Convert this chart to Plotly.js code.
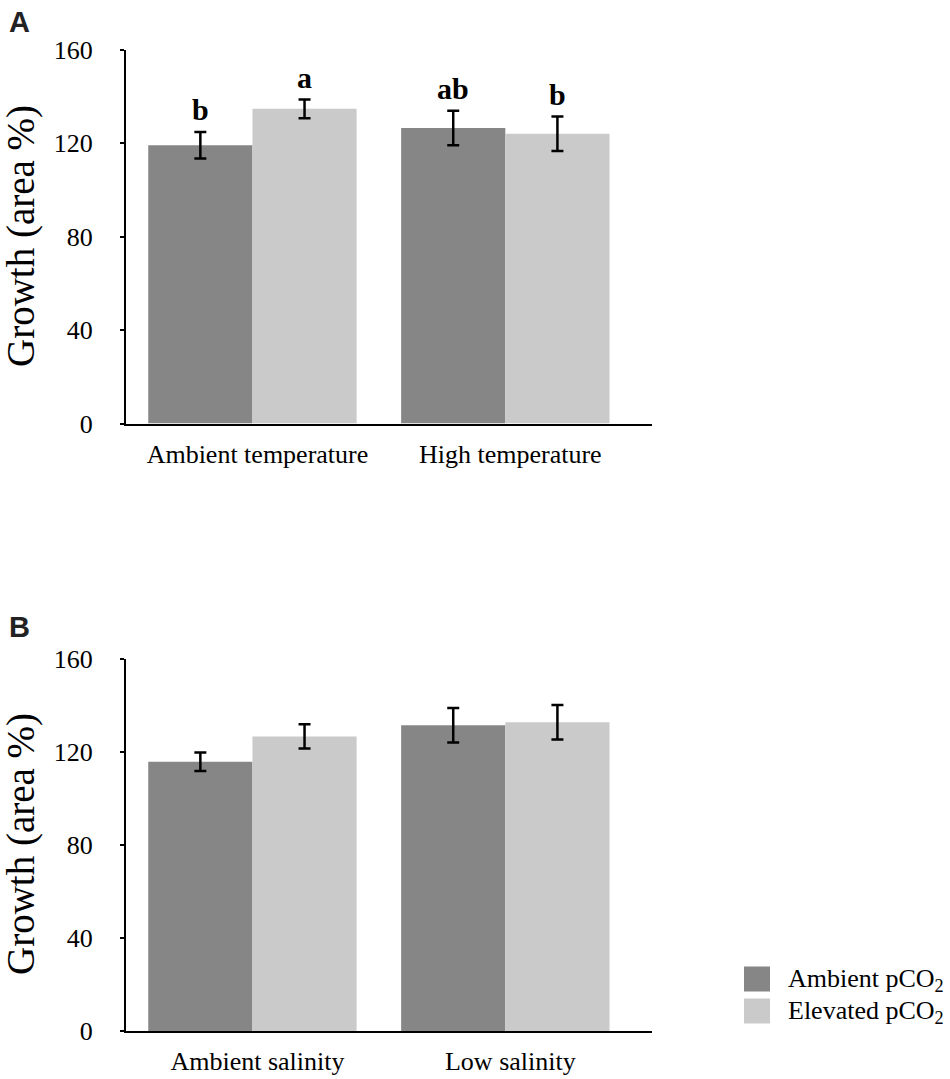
<!DOCTYPE html>
<html>
<head>
<meta charset="utf-8">
<script src="https://cdn.plot.ly/plotly-3.0.1.min.js"></script>
<style>html,body{margin:0;padding:0;background:#fff;}#chart{width:950px;height:1079px;}</style>
</head>
<body>
<div id="chart"></div>
<script>
// Panel A data
const catsA = ["Ambient temperature", "High temperature"];
const ambientA = [119.2, 126.6];
const ambientAErr = [5.7, 7.4];
const elevatedA = [134.8, 124.1];
const elevatedAErr = [4.0, 7.4];
const lettersAmbientA = ["b", "ab"];
const lettersElevatedA = ["a", "b"];

// Panel B data
const catsB = ["Ambient salinity", "Low salinity"];
const ambientB = [115.8, 131.5];
const ambientBErr = [4.0, 7.4];
const elevatedB = [126.7, 132.8];
const elevatedBErr = [5.2, 7.4];

const seriesNames = ["Ambient pCO<sub>2</sub>", "Elevated pCO<sub>2</sub>"];
const yTicks = [0, 40, 80, 120, 160];

const darkCol = "#868686";
const lightCol = "#cacaca";
const colors = [darkCol, lightCol];
const serif = "Liberation Serif, Times New Roman, serif";
const sans = "Liberation Sans, Arial, sans-serif";
const bargap = 0.176;

function bar(x, y, err, name, color, xa, ya) {
  return {
    type: "bar", x: x, y: y, name: name, xaxis: xa, yaxis: ya,
    marker: {color: color}, showlegend: false, legendgroup: name,
    error_y: {type: "data", array: err, visible: true, color: "#000", thickness: 2.5, width: 6}
  };
}

const data = [
  bar(catsA, ambientA, ambientAErr, seriesNames[0], darkCol, "x", "y"),
  bar(catsA, elevatedA, elevatedAErr, seriesNames[1], lightCol, "x", "y"),
  bar(catsB, ambientB, ambientBErr, seriesNames[0], darkCol, "x2", "y2"),
  bar(catsB, elevatedB, elevatedBErr, seriesNames[1], lightCol, "x2", "y2")
];

const annotations = [];
const half = (1 - bargap) / 4;
catsA.forEach((c, i) => {
  annotations.push({x: i - half, y: ambientA[i] + ambientAErr[i], xref: "x", yref: "y",
    text: "<b>" + lettersAmbientA[i] + "</b>", showarrow: false, xanchor: "center", yanchor: "middle", yshift: 22,
    font: {family: serif, size: 30, color: "#000"}});
  annotations.push({x: i + half, y: elevatedA[i] + elevatedAErr[i], xref: "x", yref: "y",
    text: "<b>" + lettersElevatedA[i] + "</b>", showarrow: false, xanchor: "center", yanchor: "middle", yshift: 22,
    font: {family: serif, size: 30, color: "#000"}});
});
// Axis titles and panel labels
[236, 844].forEach(py => {
  annotations.push({x: 21/950, y: 1 - py/1079, xref: "paper", yref: "paper", text: "Growth (area %)",
    textangle: -90, showarrow: false, xanchor: "center", yanchor: "middle",
    font: {family: serif, size: 39, color: "#000"}});
});
annotations.push({x: 19/950, y: 1 - 22/1079, xref: "paper", yref: "paper", text: "<b>A</b>",
  showarrow: false, xanchor: "center", yanchor: "middle", font: {family: sans, size: 29, color: "#222"}});
annotations.push({x: 19/950, y: 1 - 627/1079, xref: "paper", yref: "paper", text: "<b>B</b>",
  showarrow: false, xanchor: "center", yanchor: "middle", font: {family: sans, size: 29, color: "#222"}});

// Legend (drawn as key squares + labels)
const shapes = [];
const legendRows = [979, 1011];
seriesNames.forEach((nm, k) => {
  const cy = legendRows[k];
  shapes.push({type: "rect", xref: "paper", yref: "paper", x0: 744/950, x1: 770/950,
    y0: 1 - (cy - 12.5)/1079, y1: 1 - (cy + 12.5)/1079, fillcolor: colors[k], line: {width: 0}});
  annotations.push({x: 786/950, y: 1 - (cy + 1)/1079, xref: "paper", yref: "paper", text: nm,
    showarrow: false, xanchor: "left", yanchor: "middle", font: {family: serif, size: 26, color: "#000"}});
});

const xdom = [126/950, 652/950];
function xax(anchor) {
  return {domain: xdom, anchor: anchor, type: "category", range: [-0.5, 1.58],
    showline: true, linecolor: "#000", linewidth: 2, ticks: "", showgrid: false, zeroline: false,
    tickfont: {family: serif, size: 26, color: "#000"}, ticklabelstandoff: 6, ticklabelshift: 5, fixedrange: true};
}
function yax(dom, anchor) {
  return {domain: dom, anchor: anchor, range: [0, 160], tickvals: yTicks, ticktext: yTicks.map(String),
    showline: true, linecolor: "#000", linewidth: 2, ticks: "outside", ticklen: 4, tickwidth: 2, tickcolor: "#000",
    showgrid: false, zeroline: false, tickfont: {family: serif, size: 26, color: "#000"},
    ticklabelstandoff: 22, fixedrange: true};
}

const layout = {
  width: 950, height: 1079,
  margin: {l: 0, r: 0, t: 0, b: 0},
  paper_bgcolor: "#fff", plot_bgcolor: "rgba(0,0,0,0)",
  barmode: "group", bargap: bargap, bargroupgap: 0,
  xaxis: xax("y"), yaxis: yax([1 - 423.5/1079, 1 - 50/1079], "x"),
  xaxis2: xax("y2"), yaxis2: yax([1 - 1031/1079, 1 - 659/1079], "x2"),
  showlegend: false,
  shapes: shapes,
  annotations: annotations
};

Plotly.newPlot("chart", data, layout, {displayModeBar: false, staticPlot: true}).then(gd => {
  // drop empty placeholder text nodes (unused axis titles)
  gd.querySelectorAll("text").forEach(t => {
    if (!t.textContent || !t.textContent.trim()) t.remove();
  });
});
</script>
</body>
</html>
